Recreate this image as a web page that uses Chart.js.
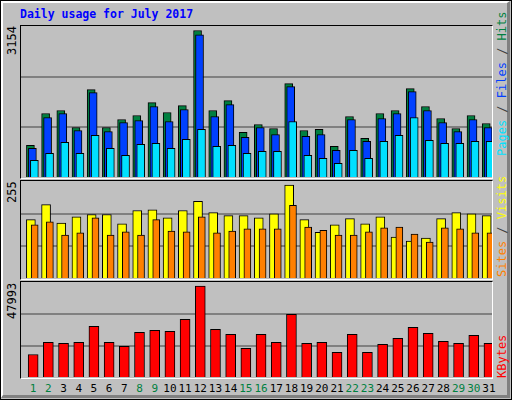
<!DOCTYPE html>
<html>
<head>
<meta charset="utf-8">
<script src="https://cdn.jsdelivr.net/npm/chart.js@4.4.1/dist/chart.umd.min.js"></script>
<style>
  body { margin: 0; background: #c0c0c0; }
  #frame { position: relative; width: 510px; height: 398px; background: #c0c0c0;
           border: 1px solid #000; overflow: hidden; font-family: "DejaVu Sans Mono", monospace; }
  #bevel { position: absolute; left: 0; top: 0; width: 504px; height: 392px;
           border-top: 2px solid #fff; border-left: 2px solid #fff;
           border-right: 3px solid #808080; border-bottom: 3px solid #808080; }
  .panel { position: absolute; left: 19px; width: 471px; background: #c0c0c0;
           border-top: 1px solid #000; border-left: 1px solid #000;
           border-right: 1px solid #fff; border-bottom: 1px solid #fff; }
  .panel canvas { display: block; }
  .title { position: absolute; left: 19px; top: 6px; color: #0000ff; font-weight: bold; font-size: 11.5px; }
  .rot { position: absolute; transform: rotate(-90deg); transform-origin: 0 0; white-space: pre; font-size: 12px; }
  .xl { position: absolute; top: 381px; font-size: 11px; width: 20px; text-align: center; }
</style>
</head>
<body>
<div id="frame">
  <div id="bevel"></div>
  <div class="title">Daily usage for July 2017</div>
  <div class="panel" style="top:24px;height:152px"><canvas id="c1"></canvas></div>
  <div class="panel" style="top:179px;height:98px"><canvas id="c2"></canvas></div>
  <div class="panel" style="top:280px;height:96px"><canvas id="c3"></canvas></div>
  <div class="rot" style="left:4px;top:54px">3154</div>
  <div class="rot" style="left:4px;top:202px">255</div>
  <div class="rot" style="left:4px;top:318px">47993</div>
  <div class="rot" style="left:494px;top:155px"><span style="color:#00e0ff">Pages</span><span style="color:#404040"> / </span><span style="color:#0040ff">Files</span><span style="color:#404040"> / </span><span style="color:#008040">Hits</span></div>
  <div class="rot" style="left:494px;top:276px"><span style="color:#ff8000">Sites</span><span style="color:#404040"> / </span><span style="color:#ffff00">Visits</span></div>
  <div class="rot" style="left:494px;top:377px;color:#ff0000">KBytes</div>
  <div id="xlabels"></div>
</div>
<script>
const days = Array.from({ length: 31 }, (_, i) => i + 1);
const weekend = [1, 2, 8, 9, 15, 16, 22, 23, 29, 30];

const hits = [697, 1379, 1443, 1080, 1890, 1080, 1251, 1336, 1613, 1400, 1549, 3154, 1443, 1656, 974, 1144,
              1059, 2018, 1016, 1038, 676, 1315, 846, 1379, 1443, 1911, 1528, 1272, 1059, 1336, 1166];
const files = [633, 1293, 1379, 1016, 1826, 995, 1187, 1230, 1528, 1208, 1464, 3062, 1315, 1570, 867, 1080,
               931, 1954, 889, 931, 590, 1251, 782, 1272, 1379, 1847, 1443, 1187, 995, 1251, 1080];
const pages = [377, 526, 761, 526, 910, 633, 484, 718, 740, 633, 825, 1038, 676, 697, 526, 569,
               569, 1208, 484, 420, 313, 590, 420, 782, 910, 1293, 803, 740, 740, 782, 782];
const visits = [161, 202, 152, 169, 175, 175, 150, 186, 188, 166, 186, 211, 180, 172, 172, 166,
                177, 255, 161, 127, 147, 164, 150, 169, 114, 103, 111, 164, 180, 177, 172];
const sites = [147, 155, 119, 125, 166, 119, 128, 119, 161, 130, 128, 169, 125, 130, 136, 136,
               136, 200, 141, 132, 119, 119, 128, 139, 141, 122, 100, 139, 136, 125, 125];
const kbytes = [12285, 18585, 18060, 18585, 26985, 18585, 16485, 23835, 24885, 24360, 30660, 47993, 25410, 22785, 15435, 22785,
                18585, 33285, 18060, 18585, 13335, 22785, 13335, 17535, 20685, 26460, 23310, 19110, 18060, 22260, 18060];

function pts(values, shift) {
    return values.map((v, i) => ({ x: days[i] + shift, y: v }));
}

function barSet(values, shift, color, width) {
    return {
        data: pts(values, shift),
        backgroundColor: color,
        borderColor: '#000',
        borderWidth: 1,
        borderSkipped: 'bottom',
        barThickness: width,
        grouped: false
    };
}

function makeChart(id, datasets, max) {
    new Chart(document.getElementById(id), {
        type: 'bar',
        data: { datasets: datasets },
        options: {
            responsive: true,
            maintainAspectRatio: false,
            animation: false,
            layout: { padding: 0 },
            plugins: { legend: { display: false }, tooltip: { enabled: false } },
            scales: {
                x: { type: 'linear', min: 0.5, max: 31.5, offset: false, bounds: 'ticks', display: false },
                y: {
                    min: 0, max: max,
                    ticks: { display: false, stepSize: max / 3 },
                    border: { display: false },
                    grid: {
                        drawTicks: false,
                        color: ctx => (ctx.tick.value > 0 && ctx.tick.value < max - 1) ? '#808080' : 'rgba(0,0,0,0)',
                        lineWidth: 2
                    },
                    afterFit: s => { s.width = 0; }
                }
            }
        }
    });
}

// first dataset is drawn on top
makeChart('c1', [
    barSet(pages, 0.38, '#00e0ff', 8),
    barSet(files, 0.25, '#0040ff', 8),
    barSet(hits, 0.12, '#008040', 8)
], 3250);
makeChart('c2', [
    barSet(sites, 0.4, '#ff8000', 7),
    barSet(visits, 0.15, '#ffff00', 9)
], 266);
makeChart('c3', [
    barSet(kbytes, 0.3, '#ff0000', 10)
], 50100);

const xl = document.getElementById('xlabels');
days.forEach(d => {
    const s = document.createElement('div');
    s.className = 'xl';
    s.textContent = d;
    s.style.left = (20 + (d - 0.5 + 0.3) * 471 / 31 - 10) + 'px';
    s.style.color = weekend.includes(d) ? '#008040' : '#000';
    xl.appendChild(s);
});
</script>
</body>
</html>
